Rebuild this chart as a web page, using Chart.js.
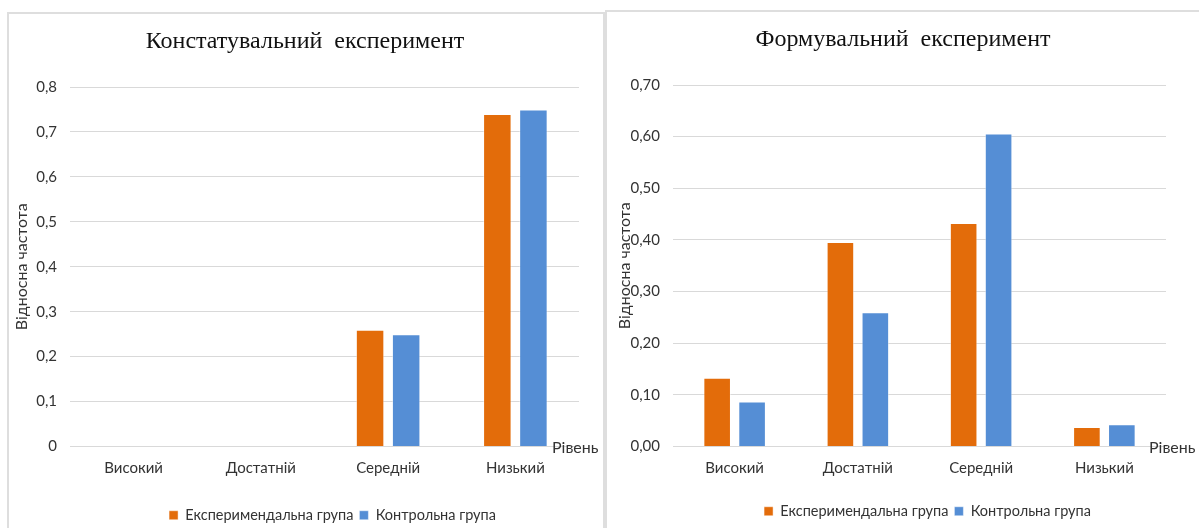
<!DOCTYPE html>
<html lang="uk">
<head>
<meta charset="utf-8">
<title>Рівні: констатувальний і формувальний експеримент</title>
<script src="https://cdn.jsdelivr.net/npm/chart.js@4.4.1/dist/chart.umd.min.js"></script>
<style>
  html, body { margin: 0; padding: 0; background: #ffffff; overflow: hidden; width: 1199px; height: 528px; }
  .panel { position: absolute; border: 2px solid #dedede; box-sizing: border-box; background: #ffffff; }
  #panelState { left: 7px; top: 12px; width: 598px; height: 560px; }
  #panelForm { left: 605px; top: 10px; width: 620px; height: 560px; }
  canvas { position: absolute; top: 0; }
  #stateChart { left: 0; }
  #formChart { left: 603px; }
</style>
</head>
<body>
<div class="panel" id="panelState"></div>
<div class="panel" id="panelForm"></div>
<canvas id="stateChart" width="610" height="545" style="width:610px;height:545px"></canvas>
<canvas id="formChart" width="600" height="545" style="width:600px;height:545px"></canvas>

<script>
// Рівні сформованості та назви груп
const categories = ['Високий', 'Достатній', 'Середній', 'Низький'];
const seriesNames = ['Експеримендальна група', 'Контрольна група'];

// Констатувальний експеримент: відносна частота
const stateExperimental = [0, 0, 0.26, 0.74];
const stateControl = [0, 0, 0.25, 0.75];

// Формувальний експеримент: відносна частота
const formExperimental = [0.133, 0.396, 0.433, 0.038];
const formControl = [0.087, 0.26, 0.606, 0.043];

// Підписи поділок осі Y
const stateTicks = ['0', '0,1', '0,2', '0,3', '0,4', '0,5', '0,6', '0,7', '0,8'];
const formTicks = ['0,00', '0,10', '0,20', '0,30', '0,40', '0,50', '0,60', '0,70'];

const titles = ['Констатувальний  експеримент', 'Формувальний  експеримент'];
const yAxisTitle = 'Відносна частота';
const xAxisTitle = 'Рівень';

const ORANGE = '#e36c0a';
const BLUE = '#558ed5';
const GRID = '#d9d9d9';
const TEXT = '#333333';
const SANS = 'Lato, "Open Sans", sans-serif';

// Підпис осі X праворуч від області побудови, на рівні нульової лінії
const levelLabel = {
  id: 'levelLabel',
  afterDraw(chart, args, opts) {
    const { ctx, chartArea } = chart;
    ctx.save();
    ctx.font = '16px ' + SANS;
    ctx.fillStyle = TEXT;
    ctx.textAlign = 'left';
    ctx.textBaseline = 'middle';
    ctx.fillText(opts.text, chartArea.right + opts.dx, chartArea.bottom + opts.dy);
    ctx.restore();
  }
};

// Невеликий зсув легенди вправо відносно центру області побудови
const legendShift = {
  id: 'legendShift',
  afterLayout(chart, args, opts) {
    const lg = chart.legend;
    if (lg) { lg.left += opts.dx; lg.right += opts.dx; }
  }
};

function makeChart(id, p) {
  return new Chart(document.getElementById(id), {
    type: 'bar',
    data: {
      labels: categories,
      datasets: [
        { label: seriesNames[0], data: p.exp, backgroundColor: ORANGE,
          borderColor: 'rgba(255,255,255,0.45)', borderWidth: 1 },
        { label: seriesNames[1], data: p.ctl, backgroundColor: BLUE,
          borderColor: 'rgba(255,255,255,0.45)', borderWidth: 1 }
      ]
    },
    options: {
      responsive: false,
      animation: false,
      events: [],
      datasets: { bar: { categoryPercentage: 0.567, barPercentage: 0.79 } },
      layout: { padding: { left: 0, right: 0, top: 0, bottom: p.padBottom } },
      plugins: {
        title: {
          display: true, text: p.title, color: '#111111',
          font: { family: '"Liberation Serif", "Times New Roman", serif', size: 24, weight: 'normal' },
          padding: { top: p.titleTop, bottom: p.titleBottom }
        },
        legend: {
          position: 'bottom', fullSize: false,
          labels: { boxWidth: 9, boxHeight: 9, padding: 6, color: TEXT,
                    font: { family: SANS, size: 14.5 } }
        },
        tooltip: { enabled: false },
        levelLabel: { text: xAxisTitle, dx: p.levelDx, dy: 1 },
        legendShift: { dx: 8 }
      },
      scales: {
        x: {
          grid: { display: false, drawTicks: false },
          border: { display: true, color: GRID, width: 1 },
          ticks: { color: TEXT, padding: 13, font: { family: SANS, size: 15 } },
          afterFit(scale) { scale.height = p.xHeight; scale.paddingRight = p.rightGap; }
        },
        y: {
          min: 0, max: p.max,
          grid: { color: GRID, drawTicks: false },
          border: { display: false },
          ticks: { stepSize: 0.1, color: TEXT, padding: 13, font: { family: SANS, size: 15 },
                   callback: (v, i) => p.ticks[i] },
          title: { display: true, text: yAxisTitle, color: TEXT,
                   font: { family: SANS, size: 16 }, padding: { top: 12, bottom: 0 } },
          afterFit(scale) { scale.width = 70; }
        }
      }
    },
    plugins: [levelLabel, legendShift]
  });
}

makeChart('stateChart', {
  exp: stateExperimental, ctl: stateControl, ticks: stateTicks, max: 0.8,
  title: titles[0], titleTop: 27.6, titleBottom: 30.6,
  xHeight: 55.5, padBottom: 12.5, rightGap: 31, levelDx: -27
});

makeChart('formChart', {
  exp: formExperimental, ctl: formControl, ticks: formTicks, max: 0.7,
  title: titles[1], titleTop: 25.6, titleBottom: 30.6,
  xHeight: 51.5, padBottom: 16.5, rightGap: 37, levelDx: -17
});
</script>
</body>
</html>
